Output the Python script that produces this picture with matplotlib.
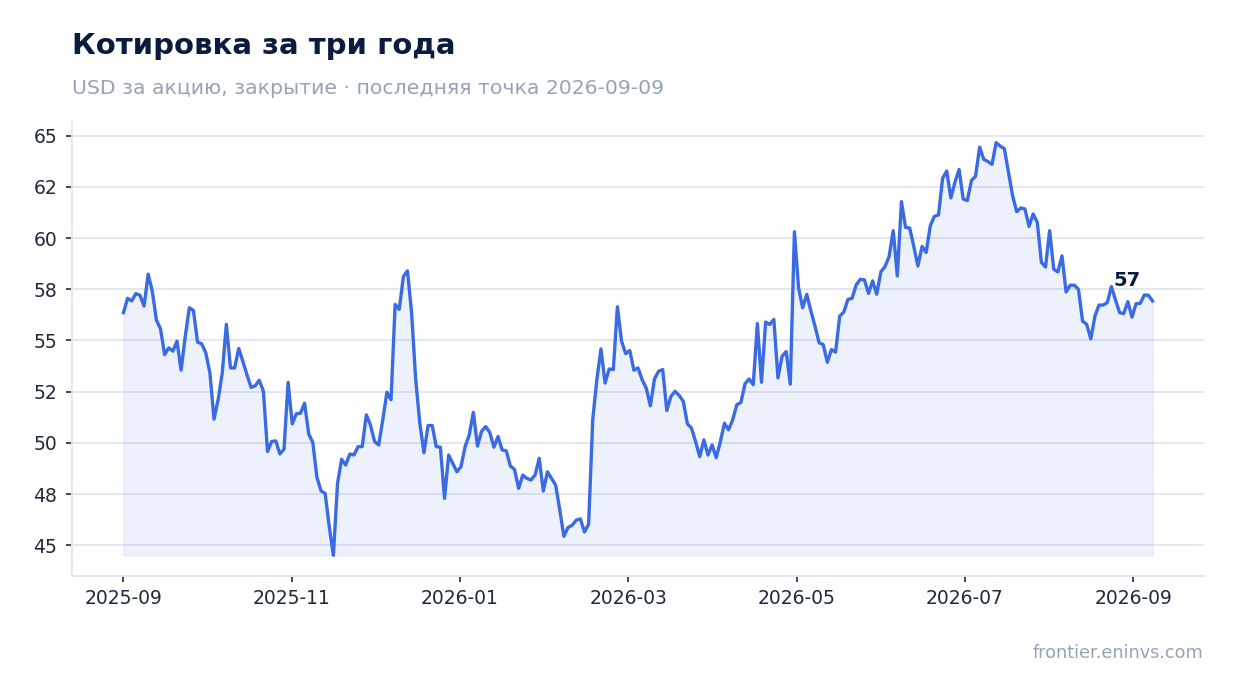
import pandas as pd
import matplotlib
matplotlib.use("Agg")
import matplotlib.pyplot as plt
import matplotlib.dates as mdates
from matplotlib.ticker import MultipleLocator, StrMethodFormatter

# Closing prices (Sep 2025 -> Sep 2026)
close = [
    56.36, 57.06, 56.93, 57.29, 57.21, 56.68, 58.24, 57.42, 56.00, 55.57,
    54.31, 54.64, 54.48, 54.97, 53.55, 55.18, 56.60, 56.47, 54.92, 54.84,
    54.40, 53.42, 51.16, 52.11, 53.42, 55.79, 53.66, 53.66, 54.61, 53.99,
    53.33, 52.71, 52.79, 53.06, 52.52, 49.58, 50.07, 50.10,
    49.46, 49.69, 52.96, 50.93, 51.42, 51.45, 51.94, 50.44, 50.02, 48.32,
    47.66, 47.53, 45.90, 44.51, 48.02, 49.20, 48.92, 49.46, 49.41, 49.82,
    49.82, 51.37, 50.88, 50.07, 49.90, 51.13, 52.47, 52.11, 56.76, 56.52,
    58.12, 58.40, 56.36, 53.09, 50.96, 49.52, 50.85, 50.85, 49.82, 49.79,
    47.29, 49.41, 49.00, 48.59, 48.84, 49.82, 50.39,
    51.49, 49.85, 50.56, 50.80, 50.51, 49.79, 50.31, 49.66, 49.61, 48.87,
    48.71, 47.78, 48.43, 48.27, 48.19, 48.43, 49.25, 47.65, 48.59, 48.27,
    47.94, 46.72, 45.44, 45.87, 45.98, 46.23, 46.29, 45.65, 46.03, 51.13,
    53.09, 54.59, 52.92, 53.61, 53.58, 56.65, 54.97, 54.36, 54.51, 53.55,
    53.66, 53.09, 52.68, 51.81, 53.12, 53.50, 53.58,
    51.58, 52.27, 52.52, 52.32, 52.03, 50.93, 50.72, 50.06, 49.33, 50.15,
    49.41, 49.90, 49.28, 50.06, 50.96, 50.64, 51.13, 51.86, 51.98, 52.89,
    53.12, 52.84, 55.83, 52.96, 55.90, 55.78, 56.03, 53.17, 54.23, 54.46,
    52.87, 60.31, 57.58, 56.60, 57.25, 56.44, 55.70, 54.89, 54.80, 53.94,
    54.56, 54.43, 56.19, 56.39, 57.01, 57.06, 57.71, 57.99,
    57.96, 57.30, 57.91, 57.26, 58.35, 58.61, 59.10, 60.36, 58.15, 61.78,
    60.52, 60.49, 59.59, 58.64, 59.59, 59.30, 60.60, 61.06, 61.13, 62.92,
    63.27, 61.96, 62.73, 63.35, 61.91, 61.83, 62.81, 63.02, 64.44, 63.84,
    63.74, 63.60, 64.66, 64.49, 64.36, 63.22,
    62.07, 61.29, 61.47, 61.42, 60.57, 61.18, 60.77, 58.81, 58.59, 60.36,
    58.48, 58.35, 59.13, 57.37, 57.70, 57.70, 57.50, 55.95, 55.79, 55.08,
    56.19, 56.73, 56.73, 56.85, 57.63, 56.98, 56.36, 56.31, 56.90, 56.14,
    56.80, 56.81, 57.22, 57.21, 56.93,
]
start_date = "2025-09-01"
end_date = "2026-09-09"

title = "Котировка за три года"
subtitle = "USD за акцию, закрытие · последняя точка 2026-09-09"
source = "frontier.eninvs.com"

dates = pd.date_range(start_date, end_date, periods=len(close))
s = pd.Series(close, index=dates)

# x ticks every 61 days from the first date, labelled by month
tick_dates = pd.date_range(start_date, periods=7, freq="61D")

line_color = "#3a6be4"
grid_color = "#e2e8f0"
text_dark = "#1e293b"

fig = plt.figure(figsize=(12.34, 6.93), dpi=100)
ax = fig.add_axes([72 / 1234, 1 - 576 / 693, (1204 - 72) / 1234, (576 - 122) / 693])

ax.fill_between(s.index, s.values, s.min(), color=line_color, alpha=0.09, linewidth=1)
ax.plot(s.index, s.values, color=line_color, linewidth=2.4, solid_joinstyle="round")

# label for the last point
ax.annotate(f"{s.iloc[-1]:.0f}", (s.index[-1], s.iloc[-1]),
            xytext=(-26, 15), textcoords="offset pixels",
            ha="center", va="baseline", fontsize=14, fontweight="bold",
            color="#0b1b3f")

ax.set_xticks(tick_dates)
ax.xaxis.set_major_formatter(mdates.DateFormatter("%Y-%m"))
ax.yaxis.set_major_locator(MultipleLocator(2.5))
ax.yaxis.set_major_formatter(StrMethodFormatter("{x:.0f}"))

ax.grid(axis="y", color=grid_color, linewidth=1.4)
ax.set_axisbelow(True)
for side in ["top", "right"]:
    ax.spines[side].set_visible(False)
for side in ["left", "bottom"]:
    ax.spines[side].set_color(grid_color)
    ax.spines[side].set_linewidth(1.4)

ax.tick_params(axis="both", labelsize=13.5, colors=text_dark, length=4.5, width=1.2)
ax.tick_params(axis="y", pad=6)
ax.tick_params(axis="x", pad=5)

fig.text(72 / 1234, 1 - 54 / 693, title, fontsize=21, fontweight="bold",
         color="#0b1b3f", va="baseline")
fig.text(72 / 1234, 1 - 94 / 693, subtitle, fontsize=14.7, color="#94a3b8",
         va="baseline")
fig.text(1203 / 1234, 1 - 658 / 693, source, fontsize=12.7, color="#94a3b8",
         ha="right", va="baseline")

fig.savefig("out.png", dpi=100, facecolor="white")
